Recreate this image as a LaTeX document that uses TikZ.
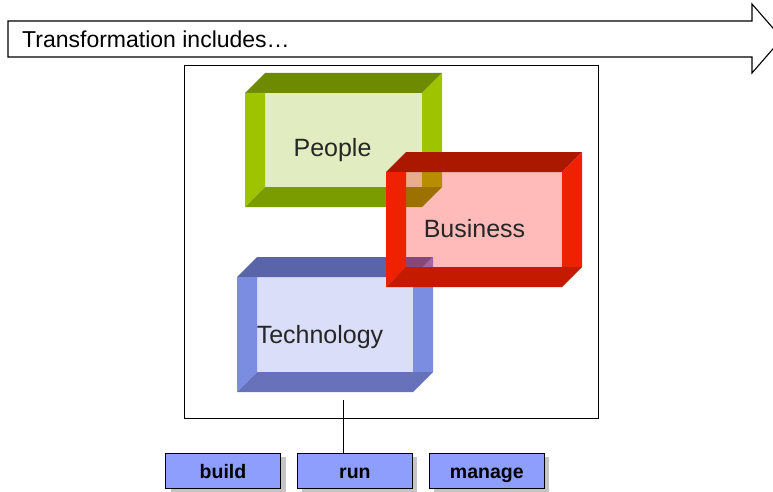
\documentclass[tikz,border=0pt]{standalone}
\usepackage{fontspec}
\setmainfont{Liberation Sans}
\usetikzlibrary{shapes,arrows,positioning,calc,shadows}
\definecolor{peopletop}{RGB}{110, 138, 0}
\definecolor{peopleside}{RGB}{158, 196, 0}
\definecolor{peoplebottom}{RGB}{122, 156, 0}
\definecolor{peopleface}{RGB}{225, 236, 193}
\definecolor{businesstop}{RGB}{170, 24, 0}
\definecolor{businessside}{RGB}{238, 34, 0}
\definecolor{businessbottom}{RGB}{196, 26, 0}
\definecolor{businessface}{RGB}{255, 0, 0}
\definecolor{technologytop}{RGB}{90, 100, 168}
\definecolor{technologyside}{RGB}{123, 141, 225}
\definecolor{technologybottom}{RGB}{104, 114, 186}
\definecolor{technologyface}{RGB}{218, 222, 248}
\definecolor{taskblue}{RGB}{141, 158, 252}

% bevel box: outer left, outer top, outer right, outer bottom, colour prefix, face opacity
\newcommand{\bevelbox}[6]{%
  \fill[#5face, fill opacity=#6] ({#1+20},{#2+20}) rectangle ({#3-20},{#4-20});
  \fill[#5top] (#1,{#2+20}) -- ({#1+20},#2) -- (#3,#2) -- ({#3-20},{#2+20}) -- cycle;
  \fill[#5side] (#1,{#2+20}) -- ({#1+20},{#2+20}) -- ({#1+20},{#4-20}) -- (#1,#4) -- cycle;
  \fill[#5side] ({#3-20},{#2+20}) -- (#3,#2) -- (#3,{#4-20}) -- ({#3-20},{#4-20}) -- cycle;
  \fill[#5bottom] (#1,#4) -- ({#1+20},{#4-20}) -- (#3,{#4-20}) -- ({#3-20},#4) -- cycle;
}

\begin{document}
\begin{tikzpicture}[x=1pt, y=-1pt, node distance=16pt, >=latex]
    \tikzstyle{facetext} = [font=\fontsize{25}{30}\selectfont, text=black!85, anchor=base, inner sep=0pt]
    \tikzstyle{task} = [rectangle, draw, line width=0.9pt, fill=taskblue, minimum width=115pt, minimum height=35pt, inner sep=0pt, text height=16pt, text depth=1pt, font=\fontsize{19.5}{23}\selectfont\bfseries, drop shadow={shadow xshift=5pt, shadow yshift=-4pt, fill=black!45, opacity=0.5}]
    \useasboundingbox (0,0) rectangle (773,492);

    \draw [line width=1.1pt, fill=white] (8,21) -- (752,21) -- (752,4) -- (782,38.5) -- (752,73) -- (752,57) -- (8,57) -- cycle;
    \node [anchor=base west, inner sep=0pt, font=\fontsize{23}{28}\selectfont] (trans) at (22,48) {Transformation includes…};

    \node [draw, line width=1pt, minimum width=414pt, minimum height=352pt, inner sep=0pt] (frame) at (391,242) {};

    \bevelbox{245}{73}{442}{207}{people}{1}
    \bevelbox{237}{257}{433}{392}{technology}{1}
    \bevelbox{386}{152}{582}{287}{business}{0.27}

    \node [facetext] (people) at (332.5,157) {People};
    \node [facetext] (business) at (474.5,237) {Business};
    \node [facetext] (technology) at (320,343) {Technology};

    \node [task] (build) at (223,470.5) {build};
    \node [task, right=of build] (run) {run};
    \node [task, right=of run] (manage) {manage};

    \coordinate (linetop) at (343,400);
    \draw [line width=1pt] (linetop) -- (linetop |- run.north);
\end{tikzpicture}
\end{document}
